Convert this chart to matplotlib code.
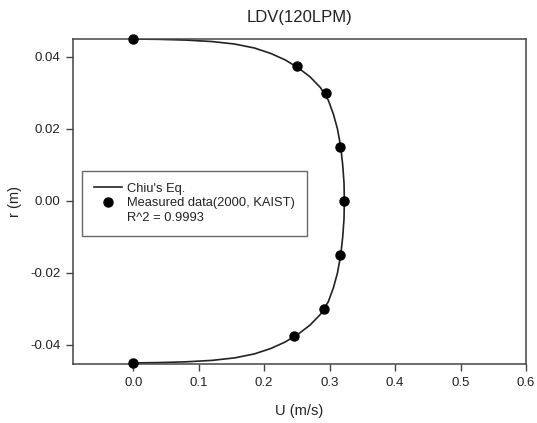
import matplotlib
matplotlib.use("Agg")
import matplotlib.pyplot as plt
from matplotlib.lines import Line2D

plt.rcParams['font.family'] = ['Liberation Sans', 'DejaVu Sans']

# Measured data (2000, KAIST)
meas_u = [0.0, 0.250, 0.294, 0.316, 0.322, 0.316, 0.291, 0.245, 0.0]
meas_r = [0.045, 0.0375, 0.030, 0.015, 0.0, -0.015, -0.030, -0.0375, -0.045]

# Chiu's equation curve
curve_r = [0.0450, 0.0449, 0.0447, 0.0443, 0.0436, 0.0425, 0.0410, 0.0392, 0.0370,
           0.0345, 0.0315, 0.0280, 0.0240, 0.0200, 0.0150, 0.0100, 0.0050, 0.0000,
           -0.0050, -0.0100, -0.0150, -0.0200, -0.0240, -0.0280, -0.0315, -0.0345,
           -0.0370, -0.0392, -0.0410, -0.0425, -0.0436, -0.0443, -0.0447, -0.0449, -0.0450]
curve_u = [0.000, 0.040, 0.080, 0.120, 0.155, 0.185, 0.210, 0.232, 0.252,
           0.270, 0.286, 0.298, 0.306, 0.312, 0.317, 0.320, 0.322, 0.3225,
           0.322, 0.320, 0.317, 0.312, 0.306, 0.298, 0.286, 0.270,
           0.252, 0.232, 0.210, 0.185, 0.155, 0.120, 0.080, 0.040, 0.000]

x_ticks = [0.0, 0.1, 0.2, 0.3, 0.4, 0.5, 0.6]
y_ticks = [-0.04, -0.02, 0.00, 0.02, 0.04]

fig = plt.figure(figsize=(5.37, 4.23), dpi=100)
ax = fig.add_axes([73/537, 1-364/423, (526-73)/537, (364-39)/423])

ax.plot(curve_u, curve_r, color='#222222', lw=1.2, zorder=2)
ax.plot(meas_u, meas_r, 'o', color='black', markersize=6.5, zorder=3, clip_on=False)

ax.set_xlim(-0.092, 0.6)
ax.set_ylim(-0.0453, 0.045)
ax.set_xticks(x_ticks)
ax.set_xticklabels([f"{v:.1f}" for v in x_ticks])
ax.set_yticks(y_ticks)
ax.set_yticklabels([f"{v:.2f}" for v in y_ticks])
ax.tick_params(direction='out', length=5, width=1, colors='#444444', labelsize=9.5,
               labelcolor='#222222', pad=4)
for s in ax.spines.values():
    s.set_color('#444444')
    s.set_linewidth(1.1)

ax.set_xlabel('U (m/s)', fontsize=10.5, color='#222222', labelpad=11)
ax.set_ylabel('r (m)', fontsize=10.5, color='#222222', labelpad=6)
ax.set_title('LDV(120LPM)', fontsize=12, color='#222222', pad=12)

handles = [Line2D([], [], color='#222222', lw=1.2),
           Line2D([], [], ls='none', marker='o', color='black', markersize=6.5),
           Line2D([], [], ls='none', marker=None, color='none')]
labels = ["Chiu's Eq.", "Measured data(2000, KAIST)", "R^2 = 0.9993"]
leg = ax.legend(handles, labels, loc='upper left',
                bbox_to_anchor=(82/537, 1-171/423), bbox_transform=fig.transFigure,
                fontsize=9.3, frameon=True, fancybox=False, borderaxespad=0,
                handlelength=2.2, handletextpad=0.4, labelspacing=0.2,
                borderpad=0.9)
leg.get_frame().set_edgecolor('#444444')
leg.get_frame().set_linewidth(1.0)
for t in leg.get_texts():
    t.set_color('#222222')

fig.savefig('out.png', dpi=100)
